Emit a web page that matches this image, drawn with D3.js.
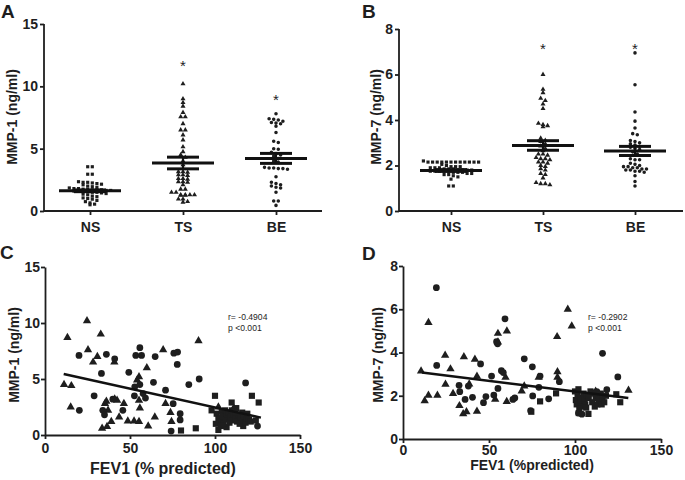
<!DOCTYPE html>
<html><head><meta charset="utf-8">
<script src="https://cdn.jsdelivr.net/npm/d3@7"></script>
<style>body{margin:0;background:#fff} svg{display:block} text{font-family:"Liberation Sans",Arial,Helvetica,sans-serif;fill:#1e1e1e}</style>
</head><body><svg id="chart" width="685" height="480"></svg>
<script>
// ---------- DATA ----------
const categories = ["NS", "TS", "BE"];
const mmp1NS = [3.55,3.55,2.95,2.95,2.35,2.3,2.3,2.25,2.2,2.15,2.1,2.0,1.95,1.9,1.85,1.8,1.8,1.75,1.75,1.7,1.7,1.7,1.65,1.65,1.6,1.6,1.55,1.55,1.5,1.5,1.45,1.4,1.35,1.3,1.2,1.15,1.05,1.0,0.95,0.85,0.75,0.65,0.55,0.5];
const mmp1TS = [10.2,9.0,8.7,8.4,7.9,7.55,7.55,7.0,6.5,6.5,6.1,5.7,5.15,4.75,4.5,4.3,4.0,3.7,3.15,3.15,3.1,2.9,2.9,2.85,2.6,2.6,2.55,2.35,2.35,2.3,2.1,1.75,1.75,1.5,1.5,1.3,1.3,1.3,1.25,1.25,1.3,0.95,0.95,0.75,0.7];
const mmp1BE = [7.8,7.4,7.35,7.3,7.2,7.1,7.05,7.0,6.8,6.3,5.6,5.5,5.0,4.95,4.7,4.6,4.5,4.4,4.2,4.0,3.9,3.5,3.45,3.45,3.4,3.4,3.35,2.75,2.3,2.2,2.1,2.0,1.9,1.85,1.5,0.8,0.8,0.45];
const mmp1Mean = [1.62, 3.85, 4.22];
const mmp1Sem = [0.07, 0.47, 0.40];
const mmp1Stars = ["", "*", "*"];
const mmp1StarY = [0, 11.8, 9.1];

const mmp7NS = [2.2,2.15,2.15,2.15,2.15,2.15,2.15,2.15,2.15,2.15,2.15,2.15,2.15,2.05,2.0,1.95,1.95,1.95,1.9,1.9,1.9,1.85,1.85,1.85,1.8,1.8,1.8,1.8,1.75,1.75,1.75,1.75,1.75,1.7,1.7,1.7,1.65,1.65,1.6,1.6,1.55,1.5,1.4,1.1,1.1];
const mmp7TS = [6.0,5.35,5.2,4.95,4.85,4.7,4.5,3.85,3.8,3.75,3.7,3.2,3.1,3.05,2.95,2.85,2.75,2.65,2.5,2.5,2.45,2.35,2.3,2.3,2.25,2.15,2.15,2.1,2.0,1.95,1.85,1.8,1.65,1.6,1.45,1.25,1.2,1.2,1.15];
const mmp7BE = [6.95,5.55,4.35,3.95,3.65,3.4,3.35,3.1,3.05,3.0,2.95,2.9,2.85,2.8,2.75,2.7,2.6,2.5,2.45,2.3,2.25,2.25,2.1,2.05,2.0,1.95,1.95,1.9,1.9,1.85,1.85,1.8,1.8,1.75,1.75,1.7,1.55,1.3,1.1];
const mmp7Mean = [1.78, 2.88, 2.64];
const mmp7Sem = [0.04, 0.21, 0.20];
const mmp7Stars = ["", "*", "*"];
const mmp7StarY = [0, 7.2, 7.2];

const mmp1Ticks = [0, 5, 10, 15];
const mmp7Ticks = [0, 2, 4, 6, 8];
const fevTicks = [0, 50, 100, 150];

// Panel C: [FEV1 % predicted, MMP-1]
const cTS = [[24.7,10.2],[13.2,8.7],[32.8,9.0],[25.3,7.6],[30.8,7.0],[28.3,6.5],[40.8,6.5],[69.5,7.6],[90.3,8.4],[59.9,6.0],[11.2,4.5],[15.5,4.4],[15.1,2.5],[35.3,2.8],[36.1,3.0],[41,3.2],[42.4,3.1],[37.1,2.2],[39,1.2],[36.5,0.75],[33.6,0.6],[43.6,1.6],[46.4,2.8],[48.7,1.25],[52.4,1.25],[55.3,1.2],[60.7,0.8],[54.2,4.9],[55.3,5.2],[55.3,3.1],[55.8,2.4],[64.6,1.6],[70.9,2.8],[73.8,2.0],[74.4,1.2],[111,2.4],[102,2.5]];
const cBE = [[20,7.1],[36.1,7.2],[41,6.8],[53.4,7.1],[55.8,7.8],[56.8,7.1],[64.8,7.0],[75.8,7.3],[78,7.4],[77.8,6.3],[33.2,5.5],[49.3,5.6],[52.8,4.3],[55.8,4.5],[63.8,4.7],[84.6,4.5],[90.7,5.0],[118,4.65],[28.9,3.5],[20.2,2.2],[34,2.2],[35,1.8],[39.9,3.2],[45.8,2.2],[52.6,3.5],[59.1,3.3],[57.7,3.7],[70.9,4.0],[75.4,2.8],[79.5,1.9],[79.5,1.35],[74.2,0.35],[125,0.8],[112,2.0]];
const cNS = [[100,3.5],[121.7,3.5],[125.7,2.9],[109.8,2.9],[98,2.2],[80,0.4],[88.7,0.6],[102,0.45],[106.8,0.7],[116.6,0.8],[101,1.9],[102,1.5],[103,1.2],[104,2.1],[104.5,1.7],[105,1.0],[106,2.2],[106.5,1.4],[107,1.8],[108,2.0],[108.5,1.1],[109,1.6],[110,2.2],[110.5,1.3],[111,1.9],[112,1.5],[112.5,2.4],[113,1.2],[114,1.8],[114.5,1.0],[115,1.6],[116,2.0],[116.5,1.3],[117,1.7],[118,1.1],[118.5,1.5],[119,1.9],[120,1.4],[121,1.2],[124,1.3],[100.5,1.0],[103.5,0.8]];
const cFit = [[11, 5.45], [127, 1.55]];
const cStats = ["r= -0.4904", "p <0.001"];

// Panel D: [FEV1 % predicted, MMP-7]
const dTS = [[10.5,3.14],[14.8,5.38],[12.6,1.77],[14.8,2.02],[20,2.02],[24.5,3.87],[24.7,2.53],[27.6,3.24],[29.1,2.1],[32.8,1.54],[35.4,3.8],[35,1.16],[36.9,1.26],[38.5,2.54],[41.8,3.68],[43,2.9],[43,1.28],[53.6,1.83],[55.2,4.48],[55.2,4.88],[60.4,4.99],[59.6,2.85],[60.3,1.73],[69,2.22],[70.5,2.45],[78.9,2.85],[89.8,3.11],[89.8,2.85],[89.6,4.73],[95.8,6.0],[98.1,5.22],[131.1,2.25],[112,2.2]];
const dBE = [[19.4,7.0],[59.3,5.56],[54.4,4.5],[55,4.4],[19.6,3.4],[45.1,3.47],[70.5,3.71],[75.2,3.34],[79.7,2.91],[90.9,2.65],[116,3.96],[124.9,2.87],[32.6,2.48],[33,2.19],[36.1,1.83],[40.4,1.93],[38,2.45],[46.8,1.68],[48.2,1.96],[51.5,2.91],[52.8,2.03],[55.2,2.34],[57.2,3.16],[58.3,3.07],[63.9,1.83],[65,1.9],[75.4,1.99],[79,2.39],[84.7,1.86],[74.2,1.31],[102,1.2],[104,1.15],[112.7,2.19],[118.5,2.28]];
const dNS = [[74.6,1.26],[79.7,1.74],[89,2.11],[124,2.07],[126.3,1.7],[107.8,1.16],[102.2,1.2],[100,2.2],[100.5,1.8],[101,1.6],[101.5,2.0],[102,2.3],[103,1.7],[103.5,1.9],[104,1.5],[105,2.1],[105.5,1.8],[106,1.6],[107,2.0],[108,1.9],[109,2.2],[110,1.7],[111,2.1],[111.5,1.5],[112,1.9],[113,1.6],[113.5,2.0],[114,1.8],[115,2.1],[115.5,1.6],[116,1.9],[117,1.7],[118,2.0],[102.5,1.4],[106.5,1.45],[110.5,2.15]];
const dFit = [[11, 3.07], [131, 1.9]];
const dStats = ["r= -0.2902", "p <0.001"];

// ---------- DRAWING ----------
const svg = d3.select("#chart");
const INK = "#1e1e1e";

function styleAxis(g) {
  g.selectAll("path,line").attr("stroke", INK).attr("stroke-width", 1.8);
  g.selectAll("text").attr("font-size", 14).attr("font-weight", "bold").attr("fill", INK)
    .style("font-family", '"Liberation Sans",Arial,sans-serif');
}

function letter(t, x, y) {
  svg.append("text").attr("x", x).attr("y", y).attr("font-size", 19).attr("font-weight", "bold").text(t);
}
function yTitle(t, x, y) {
  svg.append("text").attr("transform", `translate(${x},${y}) rotate(-90)`)
    .attr("text-anchor", "middle").attr("font-size", 14).attr("font-weight", "bold").text(t);
}

const symTypes = [d3.symbolSquare, d3.symbolTriangle, d3.symbolCircle];

function swarm(values, y, cx, rowH, gap) {
  const pts = values.map(v => ({ v, y: y(v) })).sort((a, b) => a.y - b.y);
  const rows = []; let cur = null;
  pts.forEach(p => {
    if (!cur || p.y - cur.y0 > rowH) { cur = { y0: p.y, items: [] }; rows.push(cur); }
    cur.items.push(p);
  });
  rows.forEach(r => { const n = r.items.length; r.items.forEach((p, i) => { p.x = cx + (i - (n - 1) / 2) * gap; }); });
  return pts;
}

function dotPanel(o) {
  const x = d3.scalePoint().domain(categories).range(o.xr);
  const y = d3.scaleLinear().domain(o.yd).range(o.yr);
  const gy = svg.append("g").attr("transform", `translate(${o.x0},0)`)
    .call(d3.axisLeft(y).tickValues(o.ticks).tickSize(4).tickPadding(2).tickSizeOuter(0));
  gy.select(".domain").attr("d", `M0,${o.yr[0]}V${o.yr[1]}`);
  styleAxis(gy);
  const gx = svg.append("g").attr("transform", `translate(0,${o.yr[0]})`)
    .call(d3.axisBottom(x).tickSize(4).tickPadding(7));
  gx.select(".domain").attr("d", `M${o.x0},0H${o.x1}`);
  styleAxis(gx);
  o.groups.forEach((vals, gi) => {
    const pts = swarm(vals, y, x(categories[gi]), 2.6, 4.6);
    svg.append("g").selectAll("path").data(pts).join("path")
      .attr("transform", d => `translate(${d.x},${d.y})`)
      .attr("d", d3.symbol().type(symTypes[gi]).size(gi === 1 ? 11 : 10)())
      .attr("fill", INK);
    const cx = x(categories[gi]);
    const m = o.mean[gi], s = o.sem[gi];
    const g = svg.append("g").attr("stroke", "#111").attr("fill", "none");
    g.append("line").attr("x1", cx).attr("x2", cx).attr("y1", y(m + s)).attr("y2", y(m - s)).attr("stroke-width", 2.2);
    g.append("line").attr("x1", cx - 16).attr("x2", cx + 16).attr("y1", y(m + s)).attr("y2", y(m + s)).attr("stroke-width", 3);
    g.append("line").attr("x1", cx - 16).attr("x2", cx + 16).attr("y1", y(m - s)).attr("y2", y(m - s)).attr("stroke-width", 3);
    g.append("line").attr("x1", cx - 31).attr("x2", cx + 31).attr("y1", y(m)).attr("y2", y(m)).attr("stroke-width", 3);
    if (o.stars[gi]) {
      svg.append("text").attr("x", cx).attr("y", y(o.starY[gi]) + 7).attr("text-anchor", "middle")
        .attr("font-size", 15).text(o.stars[gi]);
    }
  });
}

function scatterPanel(o) {
  const x = d3.scaleLinear().domain([0, 150]).range(o.xr);
  const y = d3.scaleLinear().domain(o.yd).range(o.yr);
  const gy = svg.append("g").attr("transform", `translate(${o.xr[0]},0)`)
    .call(d3.axisLeft(y).tickValues(o.ticks).tickSize(4).tickPadding(1).tickSizeOuter(0));
  styleAxis(gy);
  const gx = svg.append("g").attr("transform", `translate(0,${o.yr[0]})`)
    .call(d3.axisBottom(x).tickValues(fevTicks).tickSize(4).tickPadding(o.xpad).tickSizeOuter(0));
  styleAxis(gx);
  const sets = [[o.ns, d3.symbolSquare, 38], [o.ts, d3.symbolTriangle, 30], [o.be, d3.symbolCircle, 36]];
  sets.forEach(([data, type, size]) => {
    svg.append("g").selectAll("path").data(data).join("path")
      .attr("transform", d => `translate(${x(d[0])},${y(d[1])})`)
      .attr("d", d3.symbol().type(type).size(size)())
      .attr("fill", INK);
  });
  svg.append("path").datum(o.fit)
    .attr("d", d3.line().x(d => x(d[0])).y(d => y(d[1])))
    .attr("stroke", "#111").attr("stroke-width", 2.5).attr("fill", "none");
  o.stats.forEach((t, i) => {
    svg.append("text").attr("x", o.statX).attr("y", o.statY + i * 10.5)
      .attr("font-size", 8.6).attr("fill", "#333").text(t);
  });
  svg.append("text").attr("x", o.titleX).attr("y", o.titleY).attr("text-anchor", "middle")
    .attr("font-size", o.titleSize).attr("font-weight", "bold").text(o.title);
}

// Panel A
dotPanel({ xr: [90, 276], x0: 44, x1: 322, yd: [0, 15], yr: [211, 24], ticks: mmp1Ticks,
  groups: [mmp1NS, mmp1TS, mmp1BE], mean: mmp1Mean, sem: mmp1Sem, stars: mmp1Stars, starY: mmp1StarY });
letter("A", 1, 18);
yTitle("MMP-1 (ng/ml)", 17, 117);

// Panel B
dotPanel({ xr: [451, 635], x0: 399, x1: 683, yd: [0, 8], yr: [211, 29], ticks: mmp7Ticks,
  groups: [mmp7NS, mmp7TS, mmp7BE], mean: mmp7Mean, sem: mmp7Sem, stars: mmp7Stars, starY: mmp7StarY });
letter("B", 362, 18);
yTitle("MMP-7 (ng/ml)", 381, 117);

// Panel C
scatterPanel({ xr: [45, 300], yd: [0, 15], yr: [435, 267], ticks: mmp1Ticks, xpad: 4,
  ns: cNS, ts: cTS, be: cBE, fit: cFit, stats: cStats, statX: 228, statY: 320,
  title: "FEV1 (% predicted)", titleX: 163, titleY: 474, titleSize: 16 });
letter("C", 0, 259);
yTitle("MMP-1 (ng/ml)", 19, 355);

// Panel D
scatterPanel({ xr: [403, 661], yd: [0, 8], yr: [439, 266], ticks: mmp7Ticks, xpad: 2,
  ns: dNS, ts: dTS, be: dBE, fit: dFit, stats: dStats, statX: 588, statY: 320,
  title: "FEV1 (%predicted)", titleX: 532, titleY: 470, titleSize: 14 });
letter("D", 362, 260);
yTitle("MMP-7 (ng/ml)", 383, 355);
</script></body></html>
